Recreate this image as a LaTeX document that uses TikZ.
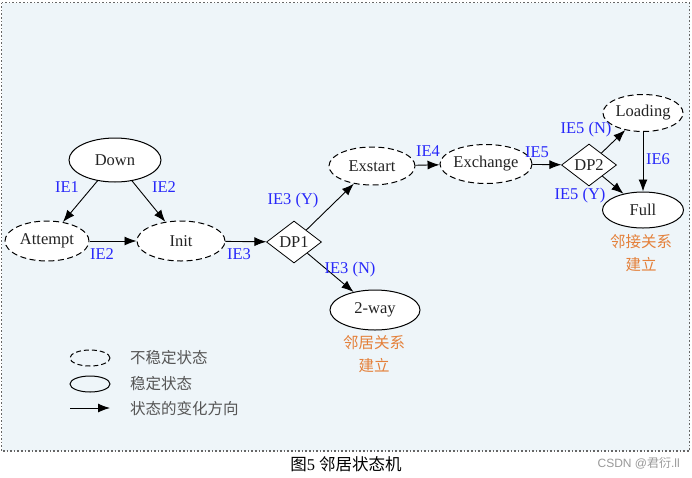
\documentclass[tikz,border=0pt]{standalone}
\usepackage{fontspec}
\setmainfont{Liberation Serif}
\newfontfamily\cjk{Noto Sans CJK SC}
\newfontfamily\wmfont{Liberation Sans}
\usetikzlibrary{shapes.geometric,arrows.meta}
\definecolor{bgblue}{RGB}{238,245,249}
\definecolor{lblblue}{RGB}{40,40,250}
\definecolor{orng}{RGB}{228,128,58}
\definecolor{txt}{RGB}{35,35,35}
\definecolor{legtxt}{RGB}{85,85,85}
\tikzset{
  base/.style={ellipse,draw=black,fill=white,line width=1pt,inner sep=0pt,text=txt,font=\fontsize{16.5}{19}\selectfont},
  stable/.style={base},
  unstable/.style={base,dashed,dash pattern=on 6pt off 3.5pt},
  decision/.style={diamond,draw=black,fill=white,line width=0.8pt,inner sep=0pt,aspect=1.3,minimum width=55pt,minimum height=42pt,text=txt,font=\fontsize{16.5}{19}\selectfont},
  lbl/.style={text=lblblue,font=\fontsize{16.5}{19}\selectfont,inner sep=0pt},
  olbl/.style={text=orng,font=\cjk\fontsize{15.5}{23}\selectfont,align=center,inner sep=0pt},
  legtext/.style={text=legtxt,font=\cjk\fontsize{15.5}{19}\selectfont,anchor=west,inner sep=0pt},
  arr/.style={-{Latex[length=12pt,width=9pt]},line width=0.9pt,draw=black},
}
\begin{document}
\begin{tikzpicture}[x=1pt,y=-1pt]
\useasboundingbox (0,0) rectangle (692,477);
\fill[white] (0,0) rectangle (692,477);
\draw[fill=bgblue,draw=black!60,dotted,line width=1.6pt] (1.5,2.5) rectangle (689.5,451);

% nodes
\node[stable,minimum width=92pt,minimum height=44pt] (down) at (115,160) {Down};
\node[unstable,minimum width=84pt,minimum height=40pt] (attempt) at (47,241) {Attempt};
\node[unstable,minimum width=88pt,minimum height=40pt] (init) at (181,241) {Init};
\node[decision] (dp1) at (294,242) {DP1};
\node[unstable,minimum width=86pt,minimum height=38pt] (exstart) at (372,166) {Exstart};
\node[stable,minimum width=90pt,minimum height=40pt] (twoway) at (375,310) {2-way};
\node[unstable,minimum width=83pt,minimum height=39pt] (exchange) at (486,164) {Exchange};
\node[decision] (dp2) at (589,165) {DP2};
\node[unstable,minimum width=80pt,minimum height=37pt] (loading) at (643,113) {Loading};
\node[stable,minimum width=81pt,minimum height=36pt] (full) at (643,210) {Full};

% edges
\draw[arr] (down) -- (attempt);
\draw[arr] (down) -- (init);
\draw[arr] (attempt) -- (init);
\draw[arr] (init) -- (dp1);
\draw[arr] (dp1) -- (exstart);
\draw[arr] (dp1) -- (twoway);
\draw[arr] (exstart) -- (exchange);
\draw[arr] (exchange) -- (dp2);
\draw[arr] (dp2) -- (loading);
\draw[arr] (dp2) -- (full);
\draw[arr] (loading.south) -- (full.north);

% labels
\node[lbl] (l1) at (67,187) {IE1};
\node[lbl] (l2) at (164,187) {IE2};
\node[lbl] (l3) at (102,254) {IE2};
\node[lbl] (l4) at (239,254) {IE3};
\node[lbl] (l5) at (293,201) {IE3 (Y)};
\node[lbl] (l6) at (350,270) {IE3 (N)};
\node[lbl] (l7) at (428,151) {IE4};
\node[lbl] (l8) at (537,152) {IE5};
\node[lbl] (l9) at (586,130) {IE5 (N)};
\node[lbl] (l10) at (580,196) {IE5 (Y)};
\node[lbl] (l11) at (658,159) {IE6};
\node[olbl] (o1) at (374,354) {邻居关系\\建立};
\node[olbl] (o2) at (641,253) {邻接关系\\建立};

% legend
\node[base,dashed,dash pattern=on 5pt off 3pt,minimum width=40pt,minimum height=16pt,fill=none] (lg1) at (90,358) {};
\node[base,minimum width=40pt,minimum height=16pt,fill=none] (lg2) at (90,384) {};
\coordinate (la) at (70,408);
\coordinate (lb) at (110,408);
\draw[arr] (la) -- (lb);
\node[legtext] (t1) at (130,358) {不稳定状态};
\node[legtext] (t2) at (130,384) {稳定状态};
\node[legtext] (t3) at (130,409) {状态的变化方向};

% caption
\node[font=\fontsize{16.5}{19}\selectfont,inner sep=0pt] (cap) at (346,464) {{\cjk 图}5 {\cjk 邻居状态机}};
\node[text=black!40,font=\fontsize{12}{14}\selectfont,inner sep=0pt,anchor=east] (wm) at (680,463) {\wmfont CSDN @{\cjk 君衍}.ll};
\end{tikzpicture}
\end{document}
